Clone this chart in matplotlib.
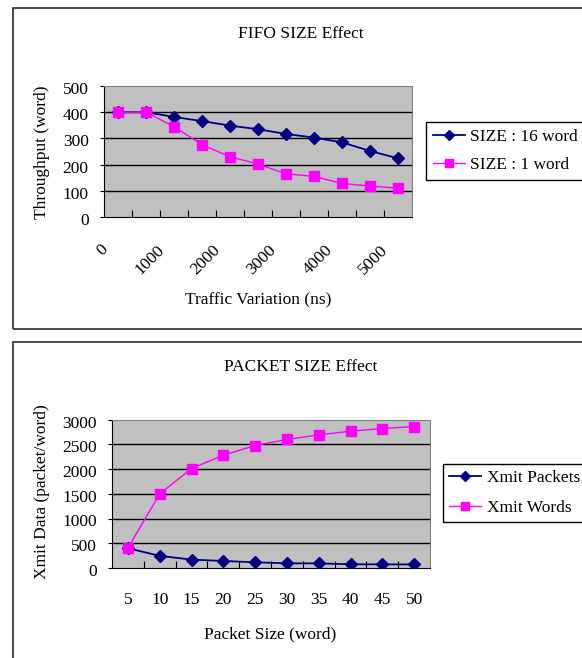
import numpy as np
import matplotlib
matplotlib.use("Agg")
import matplotlib.pyplot as plt
from matplotlib.patches import Rectangle
from matplotlib.transforms import ScaledTranslation

plt.rcParams['font.family'] = ['Liberation Serif', 'DejaVu Serif']
plt.rcParams['font.size'] = 12.5

# FIFO SIZE Effect data
traffic = [0, 500, 1000, 1500, 2000, 2500, 3000, 3500, 4000, 4500, 5000]
size16 = [400, 400, 382, 366, 349, 335, 317, 303, 285, 252, 224]
size1 = [400, 400, 345, 276, 230, 202, 165, 155, 128, 118, 110]

# PACKET SIZE Effect data
packet_size = [5, 10, 15, 20, 25, 30, 35, 40, 45, 50]
xmit_packets = [400, 245, 170, 142, 115, 95, 93, 75, 74, 72]
xmit_words = [404, 1497, 2009, 2279, 2474, 2596, 2690, 2764, 2818, 2858]

W, H = 582, 658
fig = plt.figure(figsize=(W / 100, H / 100), dpi=100)

def fx(px):
    return px / W

def fy(py):
    return 1 - py / H

#panel frames
for (x0, y0, x1, y1) in [(13, 8, 590, 329), (13, 342, 590, 670)]:
    fig.patches.append(Rectangle((fx(x0), fy(y1)), fx(x1) - fx(x0), fy(y0) - fy(y1),
                                 transform=fig.transFigure, fill=False,
                                 edgecolor='#2b2b2b', linewidth=1.2))

navy = '#000080'
magenta = '#FF00FF'

def style_axes(ax, n, ymax, ystep):
    ax.set_facecolor('#C0C0C0')
    ax.set_xlim(0, n)
    ax.set_ylim(0, ymax)
    ax.set_yticks(np.arange(0, ymax + 1, ystep))
    for y in np.arange(ystep, ymax, ystep):
        ax.axhline(y, color='black', linewidth=1.0, zorder=1)
    for s in ['top', 'right']:
        ax.spines[s].set_color('#808080')
    for s in ['left', 'bottom']:
        ax.spines[s].set_color('black')
    ax.set_xticks(np.arange(1, n))
    ax.set_xticklabels([])
    ax.tick_params(axis='x', which='major', direction='in', length=5, color='black')
    ax.tick_params(axis='y', direction='out', length=3, color='black', pad=8)
    # labels sit a touch below their gridline in the original
    for lab in ax.get_yticklabels():
        lab.set_transform(lab.get_transform() + ScaledTranslation(0, -2 / 100, fig.dpi_scale_trans))

#top chart
ax1 = fig.add_axes([fx(104), fy(217), fx(412) - fx(104), fy(86) - fy(217)])
n1 = len(traffic)
xs1 = np.arange(n1) + 0.5
style_axes(ax1, n1, 500, 100)
ax1.plot(xs1, size16, color=navy, marker='D', markersize=6, linewidth=1.3,
         label='SIZE : 16 word', zorder=3)
ax1.plot(xs1, size1, color=magenta, marker='s', markersize=7, linewidth=1.0,
         label='SIZE : 1 word', zorder=4)
ax1.set_xticks(xs1[::2], [str(t) for t in traffic[::2]], minor=True)
ax1.tick_params(axis='x', which='minor', length=0, pad=22)
offset = ScaledTranslation(-12 / 100, 0, fig.dpi_scale_trans)
for lab in ax1.get_xticklabels(minor=True):
    lab.set_rotation(45)
    lab.set_ha('right')
    lab.set_va('center')
    lab.set_rotation_mode('anchor')
    lab.set_transform(lab.get_transform() + offset)

#bottom chart
ax2 = fig.add_axes([fx(112), fy(568), fx(430) - fx(112), fy(419.5) - fy(568)])
n2 = len(packet_size)
xs2 = np.arange(n2) + 0.5
style_axes(ax2, n2, 3000, 500)
ax2.plot(xs2, xmit_packets, color=navy, marker='D', markersize=6, linewidth=1.3,
         label='Xmit Packets', zorder=3)
ax2.plot(xs2, xmit_words, color=magenta, marker='s', markersize=7, linewidth=1.0,
         label='Xmit Words', zorder=4)
ax2.set_xticks(xs2, [str(p) for p in packet_size], minor=True)
ax2.tick_params(axis='x', which='minor', length=0, pad=17)

#titles and axis labels
fig.text(fx(301), fy(34.5), 'FIFO SIZE Effect', ha='center', va='center')
fig.text(fx(42), fy(152), 'Throughput (word)', rotation=90, ha='center', va='center')
fig.text(fx(258), fy(300), 'Traffic Variation (ns)', ha='center', va='center')
fig.text(fx(301), fy(367), 'PACKET SIZE Effect', ha='center', va='center')
fig.text(fx(42), fy(492), 'Xmit Data (packet/word)', rotation=90, ha='center', va='center')
fig.text(fx(270), fy(634), 'Packet Size (word)', ha='center', va='center')

#legends
for ax, (lx, ly), lsp, bpad in [(ax1, (425.7, 121.7), 0.69, 0.4),
                                 (ax2, (443.3, 464), 0.8, 0.34)]:
    leg = fig.legend(*ax.get_legend_handles_labels(), loc='upper left',
                     bbox_to_anchor=(fx(lx), fy(ly)), bbox_transform=fig.transFigure,
                     borderaxespad=0, frameon=True, fancybox=False, shadow=False,
                     edgecolor='black', framealpha=1, borderpad=bpad,
                     handlelength=1.85, handletextpad=0.3, labelspacing=lsp,
                     markerscale=0.85)
    leg.get_frame().set_linewidth(1.0)

fig.savefig('out.png', dpi=100)
